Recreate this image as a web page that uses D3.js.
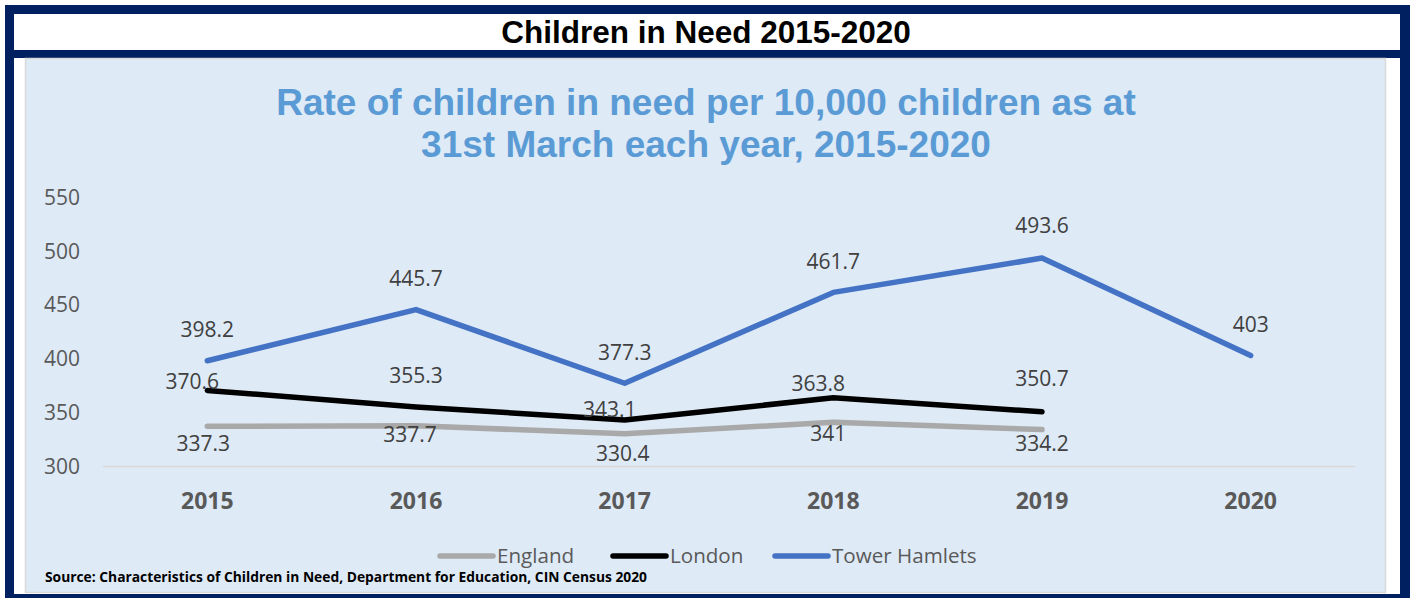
<!DOCTYPE html>
<html>
<head>
<meta charset="utf-8">
<script src="https://cdn.jsdelivr.net/npm/d3@7"></script>
<style>
	html, body { margin: 0; padding: 0; background: #ffffff; }
	svg { display: block; }
</style>
</head>
<body>
<svg id="plot"></svg>
<script>
const WIDTH = 1410;
const HEIGHT = 598;

// data
const years = ["2015", "2016", "2017", "2018", "2019", "2020"];
const englandValues = [337.3, 337.7, 330.4, 341, 334.2, null];
const londonValues = [370.6, 355.3, 343.1, 363.8, 350.7, null];
const towerHamletsValues = [398.2, 445.7, 377.3, 461.7, 493.6, 403];
const yTickValues = [300, 350, 400, 450, 500, 550];
const seriesNames = ["England", "London", "Tower Hamlets"];

// label nudges (Excel labels were dragged around by hand)
const labelOffsets = {
	England: { dx: [-4, -6, -2, -5, 0, 0], dy: [17, 9, 20, 11, 14, 0] },
	London: { dx: [-15, 0, -15, -15, 0, 0], dy: [-9, -31, -10, -14, -33, 0] },
	"Tower Hamlets": { dx: [0, 0, 0, 0, 0, 0], dy: [-31, -31, -31, -31, -32, -31] },
};

const NAVY = "#002060";
const PANEL = "#deeaf6";
const TEXT_GREY = "#595959";
const LABEL_GREY = "#404040";
const seriesColors = { England: "#a9a9a9", London: "#000000", "Tower Hamlets": "#4472c4" };
const seriesValues = { England: englandValues, London: londonValues, "Tower Hamlets": towerHamletsValues };

const svg = d3.select("#plot").attr("width", WIDTH).attr("height", HEIGHT);

// frame
svg.append("rect").attr("x", 5).attr("y", 5).attr("width", WIDTH - 5).attr("height", HEIGHT - 5).attr("fill", NAVY);
svg.append("rect").attr("x", 14).attr("y", 14).attr("width", 1386).attr("height", 580).attr("fill", "#ffffff");
svg.append("rect").attr("x", 14).attr("y", 50).attr("width", 1386).attr("height", 8).attr("fill", NAVY);
svg.append("rect")
	.attr("x", 25.5).attr("y", 58.5).attr("width", 1360).attr("height", 534)
	.attr("fill", PANEL).attr("stroke", "#d9d9d9").attr("stroke-width", 1.5);

svg.append("text")
	.attr("x", 706).attr("y", 43)
	.attr("text-anchor", "middle")
	.style("font-family", "'Liberation Sans', Arial, sans-serif")
	.style("font-weight", "bold")
	.style("font-size", "31.5px")
	.attr("fill", "#000000")
	.text("Children in Need 2015-2020");

const chartTitle = ["Rate of children in need per 10,000 children as at", "31st March each year, 2015-2020"];
svg.selectAll(".chart-title")
	.data(chartTitle)
	.join("text")
	.attr("class", "chart-title")
	.attr("x", 706)
	.attr("y", (d, i) => 115 + i * 42)
	.attr("text-anchor", "middle")
	.style("font-family", "'Liberation Sans', Arial, sans-serif")
	.style("font-weight", "bold")
	.style("font-size", "37px")
	.attr("fill", "#5b9bd5")
	.text(d => d);

// scales
const xScale = d3.scalePoint(years, [103, 1355]).padding(0.5);
const yScale = d3.scaleLinear([300, 550], [466.4, 197.4]);

// baseline gridline
svg.append("line")
	.attr("x1", 103).attr("x2", 1355)
	.attr("y1", yScale(300)).attr("y2", yScale(300))
	.attr("stroke", "#d9d9d9").attr("stroke-width", 1.5);

const font = "'Open Sans', 'Noto Sans', sans-serif";

svg.selectAll(".y-label")
	.data(yTickValues)
	.join("text")
	.attr("class", "y-label")
	.attr("x", 80)
	.attr("y", d => yScale(d))
	.attr("dy", "0.35em")
	.attr("text-anchor", "end")
	.style("font-family", font)
	.style("font-size", "21px")
	.attr("fill", TEXT_GREY)
	.text(d => d);

svg.selectAll(".x-label")
	.data(years)
	.join("text")
	.attr("class", "x-label")
	.attr("x", d => xScale(d))
	.attr("y", 501)
	.attr("dy", "0.35em")
	.attr("text-anchor", "middle")
	.style("font-family", font)
	.style("font-weight", "bold")
	.style("font-size", "23px")
	.attr("fill", TEXT_GREY)
	.text(d => d);

const line = d3.line()
	.defined(d => d.value !== null)
	.x(d => xScale(d.year))
	.y(d => yScale(d.value));

seriesNames.forEach(name => {
	const points = years.map((year, i) => ({ year, value: seriesValues[name][i], i }));
	svg.append("path")
		.datum(points)
		.attr("fill", "none")
		.attr("stroke", seriesColors[name])
		.attr("stroke-width", 5.5)
		.attr("stroke-linecap", "round")
		.attr("stroke-linejoin", "round")
		.attr("d", line);

	const offsets = labelOffsets[name];
	svg.selectAll(null)
		.data(points.filter(p => p.value !== null))
		.join("text")
		.attr("x", p => xScale(p.year) + offsets.dx[p.i])
		.attr("y", p => yScale(p.value) + offsets.dy[p.i])
		.attr("dy", "0.35em")
		.attr("text-anchor", "middle")
		.style("font-family", font)
		.style("font-size", "21px")
		.attr("fill", LABEL_GREY)
		.text(p => p.value);
});

// legend
const legendX = [438, 611, 773];
const legend = svg.selectAll(".legend-item")
	.data(seriesNames)
	.join("g")
	.attr("class", "legend-item")
	.attr("transform", (d, i) => `translate(${legendX[i]},556)`);
legend.append("line")
	.attr("x1", 2).attr("x2", 55)
	.attr("stroke", d => seriesColors[d])
	.attr("stroke-width", 5.5)
	.attr("stroke-linecap", "round");
legend.append("text")
	.attr("x", 59)
	.attr("dy", "0.35em")
	.style("font-family", font)
	.style("font-size", "20.6px")
	.attr("fill", TEXT_GREY)
	.text(d => d);

svg.append("text")
	.attr("x", 45).attr("y", 582)
	.attr("textLength", 602)
	.attr("lengthAdjust", "spacingAndGlyphs")
	.style("font-family", font)
	.style("font-weight", "bold")
	.style("font-size", "14px")
	.attr("fill", "#000000")
	.text("Source: Characteristics of Children in Need, Department for Education, CIN Census 2020");
</script>
</body>
</html>
